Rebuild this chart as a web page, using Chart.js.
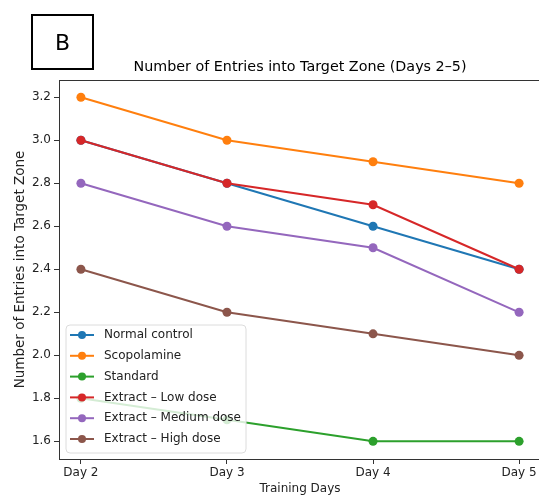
<!DOCTYPE html>
<html>
<head>
<meta charset="utf-8">
<script src="https://cdn.jsdelivr.net/npm/chart.js@4.4.1/dist/chart.umd.min.js"></script>
<style>
  html, body { margin: 0; padding: 0; background: #fff; overflow: hidden; }
  #wrap { position: relative; width: 539px; height: 500px; overflow: hidden; }
  #wrap canvas { position: absolute; left: 0; top: 0; }
  #tag {
    position: absolute; left: 31px; top: 14px; width: 59px; height: 52px;
    border: 2px solid #000; font: 22px "DejaVu Sans", sans-serif;
    display: flex; align-items: center; justify-content: center; box-sizing: content-box;
  }
</style>
</head>
<body>
<div id="wrap">
  <canvas id="c" width="560" height="500"></canvas>
  <div id="tag">B</div>
</div>
<script>
const days = ["Day 2", "Day 3", "Day 4", "Day 5"];
const groups = ["Normal control", "Scopolamine", "Standard", "Extract \u2013 Low dose", "Extract \u2013 Medium dose", "Extract \u2013 High dose"];
const normalControl = [3.0, 2.8, 2.6, 2.4];
const scopolamine = [3.2, 3.0, 2.9, 2.8];
const standard = [1.8, 1.7, 1.6, 1.6];
const extractLow = [3.0, 2.8, 2.7, 2.4];
const extractMedium = [2.8, 2.6, 2.5, 2.2];
const extractHigh = [2.4, 2.2, 2.1, 2.0];
const yTicks = [1.6, 1.8, 2.0, 2.2, 2.4, 2.6, 2.8, 3.0, 3.2];

const colors = ["#1f77b4", "#ff7f0e", "#2ca02c", "#d62728", "#9467bd", "#8c564b"];
const series = [normalControl, scopolamine, standard, extractLow, extractMedium, extractHigh];
const FONT = '"DejaVu Sans", sans-serif';

const datasets = series.map((vals, i) => ({
  label: groups[i],
  data: vals.map((v, j) => ({x: j, y: v})),
  borderColor: colors[i],
  backgroundColor: colors[i],
  borderWidth: 2,
  pointRadius: 4.5,
  pointBorderWidth: 0,
  pointHoverRadius: 4.5,
  tension: 0,
  order: series.length - i
}));

// frame, title and the legend inside the plot
const extras = {
  id: 'extras',
  afterDatasetsDraw(chart) {
    const ctx = chart.ctx, a = chart.chartArea;
    ctx.save();
    // legend
    const lx = 66, ly = 325, lw = 180, lh = 128;
    ctx.beginPath();
    ctx.roundRect(lx, ly, lw, lh, 4);
    ctx.fillStyle = 'rgba(255,255,255,0.8)';
    ctx.fill();
    ctx.strokeStyle = '#dcdcdc';
    ctx.lineWidth = 1;
    ctx.stroke();
    ctx.font = '12px ' + FONT;
    ctx.textBaseline = 'middle';
    groups.forEach((g, i) => {
      const y = 335 + i * 20.8;
      ctx.strokeStyle = colors[i];
      ctx.lineWidth = 2;
      ctx.beginPath();
      ctx.moveTo(70, y); ctx.lineTo(94, y); ctx.stroke();
      ctx.fillStyle = colors[i];
      ctx.beginPath(); ctx.arc(82, y, 4, 0, Math.PI * 2); ctx.fill();
      ctx.fillStyle = '#222';
      ctx.fillText(g, 104, y);
    });
    // frame
    ctx.strokeStyle = '#333';
    ctx.lineWidth = 1;
    ctx.strokeRect(a.left + 0.5, a.top + 0.5, a.right - a.left, a.bottom - a.top);
    // title
    ctx.fillStyle = '#000';
    ctx.font = '14.3px ' + FONT;
    ctx.textAlign = 'center';
    ctx.fillText('Number of Entries into Target Zone (Days 2\u20135)', (a.left + a.right) / 2, 67);
    ctx.restore();
  }
};

new Chart(document.getElementById('c'), {
  type: 'line',
  data: { datasets },
  options: {
    responsive: false,
    animation: false,
    layout: { padding: { top: 80, right: 19, left: 0, bottom: 0 } },
    plugins: { legend: { display: false }, tooltip: { enabled: false } },
    scales: {
      x: {
        type: 'linear',
        min: -0.15, max: 3.15,
        afterBuildTicks: s => { s.ticks = days.map((d, i) => ({value: i})); },
        afterFit: s => { s.height = 41; },
        ticks: {
          callback: v => days[v],
          color: '#222', font: { family: FONT, size: 12 }, padding: 2, maxRotation: 0
        },
        grid: { drawOnChartArea: false, drawTicks: true, tickLength: 5, color: '#333' },
        border: { display: true, color: '#333' },
        title: { display: true, text: 'Training Days', color: '#222', font: { family: FONT, size: 12 }, padding: { top: 4 } }
      },
      y: {
        min: 1.518, max: 3.28,
        afterBuildTicks: s => { s.ticks = yTicks.map(v => ({value: v})); },
        afterFit: s => { s.width = 59; },
        ticks: {
          callback: v => v.toFixed(1),
          color: '#222', font: { family: FONT, size: 12 }, padding: 3
        },
        grid: { drawOnChartArea: false, drawTicks: true, tickLength: 5, color: '#333' },
        border: { display: true, color: '#333' },
        title: { display: true, text: 'Number of Entries into Target Zone', color: '#222', font: { family: FONT, size: 13.5 }, padding: { top: 12, bottom: 0 } }
      }
    }
  },
  plugins: [extras]
});
</script>
</body>
</html>
